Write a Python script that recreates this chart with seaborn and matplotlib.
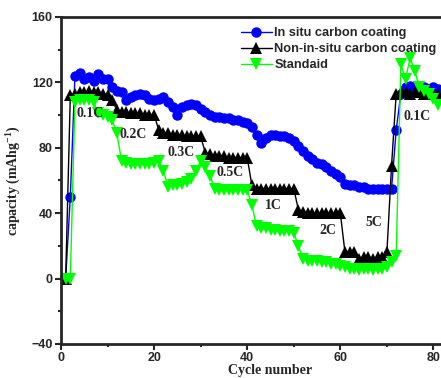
import numpy as np
import pandas as pd
import matplotlib
matplotlib.use("Agg")
import matplotlib.pyplot as plt
from matplotlib.ticker import MultipleLocator
import seaborn as sns

# data
cycles = list(range(1, 82))

in_situ = [0, 50, 124, 126, 122, 123, 121, 125, 122, 122,
           117, 115, 114, 109, 111, 112, 113, 112, 110, 109,
           110, 111, 108, 105, 100, 105, 106, 107, 106, 104,
           102, 100, 99, 99, 98, 98, 97, 97, 96, 95,
           93, 88, 83, 86, 88, 88, 87, 87, 86, 84,
           81, 78, 75, 73, 71, 70, 68, 66, 64, 62,
           58, 57, 57, 56, 56, 55, 55, 55, 55, 55,
           55, 91, 113, 117, 118, 117, 116, 117, 116, 117,
           116]

non_in_situ = [0, 112, 113, 114, 114, 115, 114, 114, 113, 112,
               109, 103, 102, 102, 101, 101, 101, 100, 100, 100,
               91, 89, 89, 88, 88, 88, 87, 87, 87, 87,
               77, 76, 75, 75, 75, 74, 74, 74, 74, 74,
               57, 55, 55, 55, 55, 55, 55, 55, 55, 55,
               42, 41, 40, 40, 40, 40, 40, 40, 40, 40,
               16, 16, 16, 12, 13, 13, 12, 13, 13, 16,
               69, 113, 114, 114, 113, 114, 114, 113, 114, 113,
               113]

standard = [0, 0, 108, 109, 109, 109, 108, 101, 100, 99,
            97, 89, 72, 71, 70, 70, 70, 70, 70, 71,
            72, 66, 56, 57, 57, 58, 59, 61, 66, 72,
            68, 63, 55, 54, 54, 54, 54, 54, 54, 54,
            45, 32, 31, 31, 30, 30, 29, 29, 29, 28,
            20, 12, 11, 11, 11, 10, 10, 9, 9, 8,
            7, 6, 6, 5, 6, 6, 5, 6, 6, 7,
            10, 14, 131, 122, 135, 127, 117, 115, 113, 110,
            106]

rate_labels = ["0.1C", "0.2C", "0.3C", "0.5C", "1C", "2C", "5C", "0.1C"]
rate_x = [6.3, 15.5, 25.8, 36.3, 45.6, 57.3, 67.3, 76.6]
rate_y = [101, 88, 77, 65, 45, 29.5, 34.5, 99]

sns.set_style("ticks")
plt.rcParams["font.family"] = ["Liberation Sans", "DejaVu Sans"]
plt.rcParams["font.weight"] = "bold"
plt.rcParams["mathtext.fontset"] = "custom"
plt.rcParams["mathtext.rm"] = "Liberation Serif:bold"
plt.rcParams["mathtext.default"] = "rm"

fig = plt.figure(figsize=(4.41, 3.78), dpi=100)
ax = fig.add_axes([61 / 441, 1 - 344 / 378, 419 / 441, 327 / 378])

sns.lineplot(x=cycles, y=in_situ, ax=ax, color="#0000ff", marker="o",
             markersize=7.5, markeredgewidth=0, linewidth=1,
             label="In situ carbon coating", estimator=None, sort=False)
sns.lineplot(x=cycles, y=non_in_situ, ax=ax, color="black", marker="^",
             markersize=8, markeredgewidth=0, linewidth=1,
             label="Non-in-situ carbon coating", estimator=None, sort=False)
sns.lineplot(x=cycles, y=standard, ax=ax, color="#00ff00", marker="v",
             markersize=8, markeredgewidth=0, linewidth=1,
             label="Standaid", estimator=None, sort=False)

for lab, x, y in zip(rate_labels, rate_x, rate_y):
    ax.text(x, y, lab, ha="center", va="center", fontsize=10,
            fontweight="bold", family="Liberation Serif")

ax.set_xlim(0, 90)
ax.set_ylim(-40, 160)
ax.xaxis.set_major_locator(MultipleLocator(20))
ax.xaxis.set_minor_locator(MultipleLocator(10))
ax.yaxis.set_major_locator(MultipleLocator(40))
ax.yaxis.set_minor_locator(MultipleLocator(20))
ax.tick_params(which="major", length=4, width=1.5, labelsize=9, pad=2)
ax.tick_params(which="minor", length=2, width=1.5)
for lbl in ax.get_xticklabels() + ax.get_yticklabels():
    lbl.set_fontweight("bold")
for s in ax.spines.values():
    s.set_linewidth(2)

ax.set_xlabel("Cycle number", family="Liberation Serif", fontsize=10,
              fontweight="bold", labelpad=0)
ax.set_ylabel("capacity (mAhg$^{-1}$)", family="Liberation Serif",
              fontsize=10, fontweight="bold", labelpad=6)

ax.legend(loc="upper left", bbox_to_anchor=(241 / 441, 1 - 27 / 378),
          bbox_transform=fig.transFigure, frameon=False, borderpad=0,
          borderaxespad=0, handlelength=2.4, handletextpad=0.2,
          labelspacing=0.32, numpoints=1,
          prop={"family": "Liberation Sans", "weight": "bold", "size": 9.2})

fig.savefig("out.png", dpi=100)
